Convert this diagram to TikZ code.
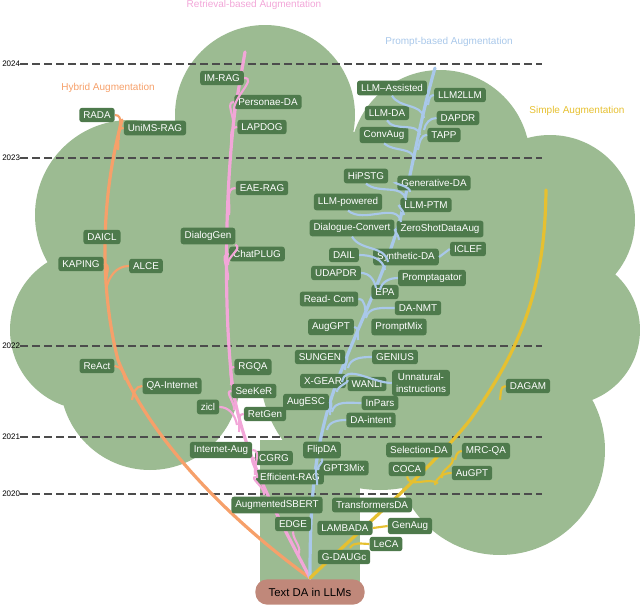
\documentclass[tikz,border=0pt]{standalone}
\usepackage{fontspec}
\setmainfont{Liberation Sans}
\begin{document}
\begin{tikzpicture}[x=0.75pt,y=-0.75pt,
  nd/.style={fill=nodegreen,text=white,rounded corners=2pt,inner xsep=3pt,inner ysep=2.8pt,font=\fontsize{7.4}{8.5}\selectfont,align=center},
  stem/.style={line width=2.4pt,line cap=round},
  br/.style={line width=1.6pt},
  ttl/.style={font=\fontsize{7.5}{9}\selectfont},
  yr/.style={font=\fontsize{6}{7}\selectfont,anchor=west,inner sep=0pt}]
\definecolor{nodegreen}{HTML}{4E7A4C}
\definecolor{canopy}{HTML}{9CBB92}
\definecolor{cpink}{HTML}{F2A6D8}
\definecolor{corange}{HTML}{F6A06A}
\definecolor{cblue}{HTML}{A9C8EA}
\definecolor{cyellow}{HTML}{E6C030}
\definecolor{croot}{HTML}{C0887A}
\useasboundingbox (0,0) rectangle (640,607);
% canopy
\fill[canopy] (265,115) circle (90) (130,215) circle (95) (90,330) circle (80) (150,380) circle (90)
 (440,160) circle (90) (550,220) circle (85) (565,330) circle (75) (500,450) circle (105)
 (330,260) circle (130) (380,370) circle (120) (200,280) circle (120) (470,290) circle (85);
\fill[canopy] (260,440) rectangle (360,585);
% year lines
\foreach \y/\t in {64/2024,158/2023,346/2022,437/2021,494/2020}{
  \node[yr] (y\t) at (2,\y) {\t};
  \coordinate (e\t) at (542,\y);
  \draw[dashed,line width=1pt,black!70,dash pattern=on 6pt off 3pt] (y\t.east) -- (e\t);}
% titles
\node[ttl,text=cpink] (t1) at (254,5) {Retrieval-based Augmentation};
\node[ttl,text=cblue] (t2) at (449,42) {Prompt-based Augmentation};
\node[ttl,text=corange] (t3) at (108,88) {Hybrid Augmentation};
\node[ttl,text=cyellow] (t4) at (577,111) {Simple Augmentation};
% root
\node[fill=croot,rounded corners=9pt,minimum width=82pt,minimum height=19pt,font=\fontsize{8.5}{10}\selectfont] (root) at (310,592) {Text DA in LLMs};
\coordinate (r) at (310,578);
% stems
\draw[stem,corange] (r) .. controls (230,520) and (150,440) .. (118,360) .. controls (100,290) and (100,200) .. (122,120);
\draw[stem,cpink] (r) .. controls (280,520) and (245,460) .. (233,390) .. controls (224,320) and (224,200) .. (235,110) -- (245,52);
\draw[stem,cblue] (r) .. controls (310,520) and (312,470) .. (325,420) .. controls (340,360) and (380,290) .. (400,220) .. controls (412,170) and (420,120) .. (435,68);
\draw[stem,cyellow] (r) .. controls (360,530) and (430,470) .. (470,420) .. controls (520,350) and (545,290) .. (546,190);
\newcommand\bL[4]{\draw[br,#1] (#2.east) to[out=0,in=100] (#3,#4);}
\newcommand\bR[4]{\draw[br,#1] (#2.west) to[out=180,in=80] (#3,#4);}
% pink nodes
\node[nd] (p1) at (222,78) {IM-RAG};
\node[nd] (p2) at (268,102) {Personae-DA};
\node[nd] (p3) at (262,127) {LAPDOG};
\node[nd] (p4) at (262,188) {EAE-RAG};
\node[nd] (p5) at (208,236) {DialogGen};
\node[nd] (p6) at (257,254) {ChatPLUG};
\node[nd] (p7) at (253,367) {RGQA};
\node[nd] (p8) at (254,391) {SeeKeR};
\node[nd] (p9) at (208,407) {zicl};
\node[nd] (p10) at (265,414) {RetGen};
\node[nd] (p11) at (221,450) {Internet-Aug};
\node[nd] (p12) at (274,458) {CGRG};
\node[nd] (p13) at (290,477) {Efficient-RAG};
\node[nd] (p14) at (277,505) {AugmentedSBERT};
\node[nd] (p15) at (293,524) {EDGE};
\bL{cpink}{p1}{234}{112}
\bR{cpink}{p2}{233}{125}
\bR{cpink}{p3}{231}{150}
\bR{cpink}{p4}{229}{215}
\draw[br,cpink] (p5.south east) to[out=-30,in=100] (228,265);
\bR{cpink}{p6}{228}{280}
\bR{cpink}{p7}{231}{385}
\bR{cpink}{p8}{234}{410}
\bL{cpink}{p9}{237}{425}
\bR{cpink}{p10}{239}{432}
\bL{cpink}{p11}{255}{475}
\bR{cpink}{p12}{257}{478}
\bR{cpink}{p13}{264}{495}
\draw[br,cpink] (p15.south) to[out=-90,in=60] (298,555);
% orange nodes
\node[nd] (o1) at (97,115) {RADA};
\node[nd] (o2) at (155,128) {UniMS-RAG};
\node[nd] (o3) at (102,237) {DAICL};
\node[nd] (o4) at (81,264) {KAPING};
\node[nd] (o5) at (146,266) {ALCE};
\node[nd] (o6) at (97,366) {ReAct};
\node[nd] (o7) at (172,386) {QA-Internet};
\bL{corange}{o1}{119}{140}
\bR{corange}{o2}{118}{150}
\bL{corange}{o4}{106}{285}
\bR{corange}{o5}{106}{290}
\bL{corange}{o6}{125}{380}
\bR{corange}{o7}{132}{400}
% blue nodes
\node[nd] (b1) at (392,88) {LLM--Assisted};
\node[nd] (b2) at (460,95) {LLM2LLM};
\node[nd] (b3) at (387,113) {LLM-DA};
\node[nd] (b4) at (458,118) {DAPDR};
\node[nd] (b5) at (384,135) {ConvAug};
\node[nd] (b6) at (444,135) {TAPP};
\node[nd] (b7) at (366,176) {HiPSTG};
\node[nd] (b8) at (434,183) {Generative-DA};
\node[nd] (b9) at (348,202) {LLM-powered};
\node[nd] (b10) at (426,205) {LLM-PTM};
\node[nd] (b11) at (352,228) {Dialogue-Convert};
\node[nd] (b12) at (440,229) {ZeroShotDataAug};
\node[nd] (b13) at (344,255) {DAIL};
\node[nd] (b14) at (406,257) {Synthetic-DA};
\node[nd] (b15) at (468,249) {ICLEF};
\node[nd] (b16) at (336,273) {UDAPDR};
\node[nd] (b17) at (432,278) {Promptagator};
\node[nd] (b18) at (385,292) {EPA};
\node[nd] (b19) at (329,299) {Read- Com};
\node[nd] (b20) at (418,308) {DA-NMT};
\node[nd] (b21) at (331,327) {AugGPT};
\node[nd] (b22) at (399,327) {PromptMix};
\node[nd] (b23) at (320,357) {SUNGEN};
\node[nd] (b24) at (395,357) {GENIUS};
\node[nd] (b25) at (323,381) {X-GEAR};
\node[nd] (b26) at (367,384) {WANLI};
\node[nd] (b27) at (421,383) {Unnatural-\\instructions};
\node[nd] (b28) at (306,402) {AugESC};
\node[nd] (b29) at (380,403) {InPars};
\node[nd] (b30) at (371,420) {DA-intent};
\node[nd] (b31) at (322,450) {FlipDA};
\node[nd] (b32) at (344,468) {GPT3Mix};
\draw[br,cblue] (b1.south) to[out=-60,in=100] (424,118);
\bR{cblue}{b2}{428}{105}
\draw[br,cblue] (b3.south) to[out=-60,in=100] (420,135);
\bR{cblue}{b4}{424}{130}
\draw[br,cblue] (b5.south) to[out=-40,in=100] (415,160);
\bR{cblue}{b6}{418}{150}
\draw[br,cblue] (b7.south) to[out=-40,in=100] (406,200);
\bR{cblue}{b8}{410}{192}
\draw[br,cblue] (b9.south) to[out=-40,in=100] (401,222);
\bR{cblue}{b10}{404}{215}
\draw[br,cblue] (b11.south) to[out=-60,in=100] (388,262);
\bR{cblue}{b12}{399}{240}
\bL{cblue}{b13}{385}{270}
\draw[br,cblue] (b15.west) -- (b14.east);
\bL{cblue}{b16}{376}{288}
\bR{cblue}{b17}{380}{290}
\bL{cblue}{b19}{366}{315}
\bR{cblue}{b20}{366}{318}
\bL{cblue}{b21}{358}{340}
\bL{cblue}{b23}{345}{370}
\bR{cblue}{b24}{348}{368}
\bL{cblue}{b25}{337}{392}
\draw[br,cblue] (b27.west) to[out=180,in=80] (342,382);
\bL{cblue}{b28}{330}{415}
\bR{cblue}{b29}{332}{412}
\bR{cblue}{b30}{327}{430}
\draw[br,cblue] (b31.south) to[out=-70,in=100] (318,470);
\bR{cblue}{b32}{317}{485}
% yellow nodes
\node[nd] (y1) at (528,386) {DAGAM};
\node[nd] (y2) at (419,450) {Selection-DA};
\node[nd] (y3) at (486,451) {MRC-QA};
\node[nd] (y4) at (407,469) {COCA};
\node[nd] (y5) at (472,473) {AuGPT};
\node[nd] (y6) at (372,505) {TransformersDA};
\node[nd] (y7) at (345,528) {LAMBADA};
\node[nd] (y8) at (410,526) {GenAug};
\node[nd] (y9) at (386,544) {LeCA};
\node[nd] (y10) at (344,557) {G-DAUGc};
\bR{cyellow}{y1}{500}{400}
\bR{cyellow}{y3}{455}{460}
\draw[br,cyellow] (y2.south east) to[out=-60,in=110] (442,478);
\draw[br,cyellow] (y4.south) to[out=-80,in=150] (438,483);
\bR{cyellow}{y5}{435}{485}
\draw[br,cyellow] (y7.east) -- (y8.west);
\draw[br,cyellow] (y9.west) to[out=180,in=60] (350,548);
\end{tikzpicture}
\end{document}
